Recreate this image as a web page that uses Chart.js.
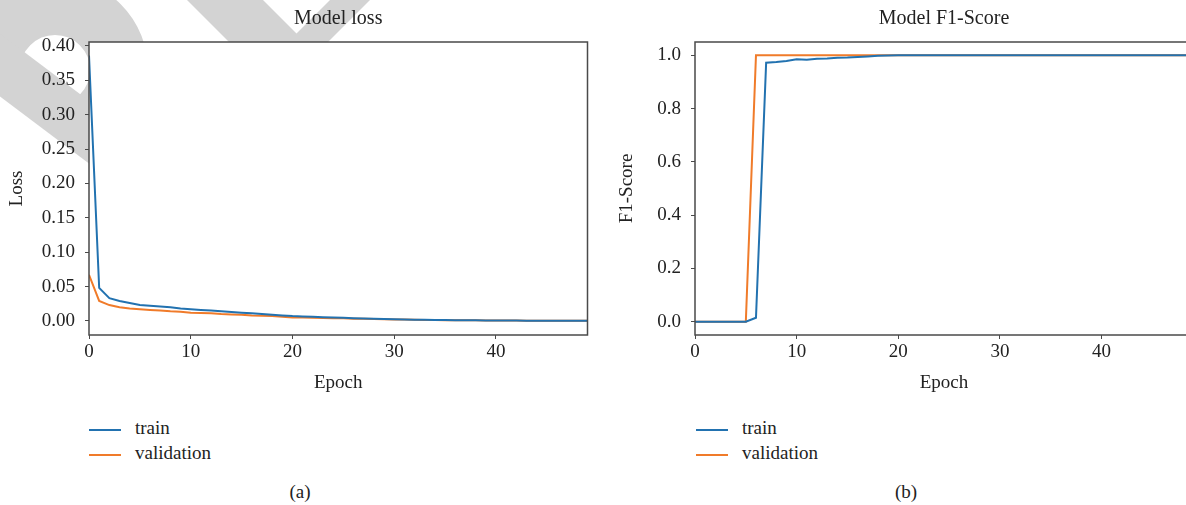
<!DOCTYPE html>
<html>
<head>
<meta charset="utf-8">
<script src="https://cdn.jsdelivr.net/npm/chart.js@4.4.1/dist/chart.umd.min.js"></script>
<style>
  body { margin: 0; width: 1186px; height: 505px; overflow: hidden; background: #fff; position: relative;
         font-family: "Liberation Serif", "DejaVu Serif", serif; color: #222; }
  canvas { position: absolute; top: 0; }
  .legend { position: absolute; font-size: 19px; }
  .legend div { height: 25px; line-height: 25px; white-space: nowrap; }
  .legend span.swatch { display: inline-block; width: 32px; height: 2px; vertical-align: middle; margin-right: 14px; }
  .caption { position: absolute; top: 480px; width: 60px; text-align: center; font-size: 19px; line-height: 24px; }
</style>
</head>
<body>
<canvas id="lossChart" width="600" height="400" style="left:0"></canvas>
<canvas id="f1Chart" width="620" height="400" style="left:600px"></canvas>

<div class="legend" id="legendA" style="left:89px;top:415px"></div>
<div class="legend" id="legendB" style="left:696px;top:415px"></div>
<div class="caption" style="left:270px">(a)</div>
<div class="caption" style="left:876px">(b)</div>

<script>
// data
const epochs = [0,1,2,3,4,5,6,7,8,9,10,11,12,13,14,15,16,17,18,19,20,21,22,23,24,
                25,26,27,28,29,30,31,32,33,34,35,36,37,38,39,40,41,42,43,44,45,46,47,48,49];

const lossTrain = [0.386,0.048,0.033,0.029,0.026,0.023,0.022,0.021,0.020,0.018,
                   0.017,0.016,0.015,0.014,0.013,0.012,0.011,0.010,0.009,0.008,
                   0.007,0.0065,0.006,0.0055,0.005,0.0045,0.004,0.0035,0.003,0.0027,
                   0.0024,0.0021,0.0018,0.0016,0.0014,0.0012,0.0010,0.0009,0.0008,0.0007,
                   0.0006,0.0005,0.0005,0.0004,0.0004,0.0003,0.0003,0.0003,0.0002,0.0002];
const lossVal   = [0.067,0.029,0.023,0.020,0.018,0.017,0.016,0.015,0.014,0.0135,
                   0.012,0.0115,0.011,0.010,0.0095,0.009,0.008,0.0075,0.007,0.006,
                   0.005,0.0048,0.0045,0.0042,0.004,0.0037,0.0033,0.003,0.0027,0.0024,
                   0.0021,0.0019,0.0017,0.0015,0.0013,0.0011,0.0010,0.0009,0.0008,0.0007,
                   0.0006,0.0005,0.0005,0.0004,0.0004,0.0003,0.0003,0.0003,0.0002,0.0002];

const f1Train = [0,0,0,0,0,0,0.015,0.972,0.975,0.979,
                 0.985,0.983,0.987,0.988,0.991,0.992,0.994,0.996,0.998,0.999,
                 1,1,1,1,1,1,1,1,1,1,
                 1,1,1,1,1,1,1,1,1,1,
                 1,1,1,1,1,1,1,1,1,1];
const f1Val   = [0,0,0,0,0,0,1,1,1,1,
                 1,1,1,1,1,1,1,1,1,1,
                 1,1,1,1,1,1,1,1,1,1,
                 1,1,1,1,1,1,1,1,1,1,
                 1,1,1,1,1,1,1,1,1,1];

const seriesNames = ['train', 'validation'];
const seriesColors = ['#2272b0', '#f07b2a'];

Chart.defaults.font.family = '"Liberation Serif", "DejaVu Serif", serif';
Chart.defaults.font.size = 19;
Chart.defaults.color = '#222';

const axisColor = '#4a4a4a';

//grey watermark behind the left panel, white plot background, four-sided frame
const framePlugin = {
  id: 'frame',
  beforeDraw(chart, args, opts) {
    const {ctx, chartArea: a} = chart;
    ctx.save();
    if (opts.watermark) {
      ctx.strokeStyle = '#d3d3d3';
      ctx.fillStyle = '#d3d3d3';
      ctx.lineWidth = 58;
      ctx.beginPath();
      ctx.arc(55, 70, 64, Math.PI, Math.PI * 2.25);
      ctx.stroke();
      ctx.lineWidth = 50;
      ctx.beginPath();
      ctx.moveTo(-20, 50);
      ctx.lineTo(110, 148);
      ctx.stroke();
      ctx.beginPath();
      ctx.moveTo(187, 0); ctx.lineTo(263, 0); ctx.lineTo(305, 42); ctx.lineTo(229, 42);
      ctx.closePath();
      ctx.fill();
      ctx.beginPath();
      ctx.moveTo(330, 0); ctx.lineTo(370, 0); ctx.lineTo(328, 42); ctx.lineTo(288, 42);
      ctx.closePath();
      ctx.fill();
    }
    ctx.fillStyle = '#fff';
    ctx.fillRect(a.left, a.top, a.right - a.left, a.bottom - a.top);
    ctx.restore();
  },
  afterDraw(chart) {
    const {ctx, chartArea: a} = chart;
    ctx.save();
    ctx.strokeStyle = axisColor;
    ctx.lineWidth = 1.5;
    ctx.strokeRect(a.left, a.top, a.right - a.left, a.bottom - a.top);
    ctx.restore();
  }
};

function makeChart(id, title, yTitle, train, val, yMin, yMax, yStep, yDec, yWidth, yTitlePad, padRight, watermark) {
  const sets = [train, val].map((d, i) => ({
    label: seriesNames[i],
    data: d,
    borderColor: seriesColors[i],
    borderWidth: 2,
    pointRadius: 0,
    tension: 0,
    fill: false
  }));
  return new Chart(document.getElementById(id), {
    type: 'line',
    data: { labels: epochs, datasets: sets },
    options: {
      responsive: false,
      animation: false,
      layout: { padding: { left: 0, right: padRight, top: 0, bottom: 0 } },
      plugins: {
        frame: { watermark: watermark },
        legend: { display: false },
        tooltip: { enabled: false },
        title: { display: true, text: title, fullSize: false, color: '#222',
                 font: { size: 20, weight: 'normal' }, padding: { top: 7, bottom: 11 } }
      },
      scales: {
        x: {
          type: 'linear', min: 0, max: 49,
          ticks: { stepSize: 10, includeBounds: false, padding: 2, callback: v => String(v) },
          grid: { drawOnChartArea: false, drawTicks: true, tickLength: 4, color: axisColor },
          border: { display: false },
          title: { display: true, text: 'Epoch', padding: { top: 0, bottom: 5.6 } },
          afterFit(s) { s.height = 65; }
        },
        y: {
          min: yMin, max: yMax,
          ticks: { stepSize: yStep, includeBounds: false, padding: 10, callback: v => Number(v).toFixed(yDec) },
          grid: { drawOnChartArea: false, drawTicks: true, tickLength: 4, color: axisColor },
          border: { display: false },
          title: { display: true, text: yTitle, padding: { top: yTitlePad, bottom: 0 } },
          afterFit(s) { s.width = yWidth; }
        }
      }
    },
    plugins: [framePlugin]
  });
}

const lossChart = makeChart('lossChart', 'Model loss', 'Loss', lossTrain, lossVal,
                            -0.0205, 0.4058, 0.05, 2, 89, 5.6, 12.5, true);
const f1Chart = makeChart('f1Chart', 'Model F1-Score', 'F1-Score', f1Train, f1Val,
                          -0.05, 1.05, 0.2, 1, 95, 15.6, 27, false);

//legends built from the datasets
function buildLegend(chart, elId) {
  const box = document.getElementById(elId);
  chart.data.datasets.forEach(ds => {
    const row = document.createElement('div');
    const sw = document.createElement('span');
    sw.className = 'swatch';
    sw.style.background = ds.borderColor;
    row.appendChild(sw);
    row.appendChild(document.createTextNode(ds.label));
    box.appendChild(row);
  });
}
buildLegend(lossChart, 'legendA');
buildLegend(f1Chart, 'legendB');
</script>
</body>
</html>
